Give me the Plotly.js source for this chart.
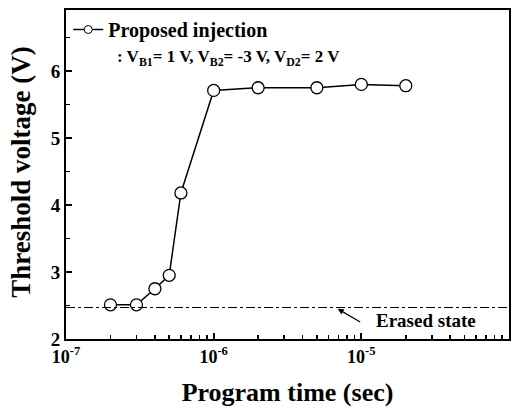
<!DOCTYPE html>
<html><head><meta charset="utf-8">
<script src="https://cdn.plot.ly/plotly-3.0.1.min.js"></script>
<style>html,body{margin:0;padding:0;background:#fff}#c{width:521px;height:409px}
.xtick text, .ytick text{font-weight:bold !important;}</style>
</head><body><div id="c"></div>
<script>
const programTime = [2e-7, 3e-7, 4e-7, 5e-7, 6e-7, 1e-6, 2e-6, 5e-6, 1e-5, 2e-5];
const thresholdV = [2.51, 2.51, 2.75, 2.95, 4.18, 5.71, 5.75, 5.75, 5.80, 5.78];
const erasedState = 2.47;
const xTickVals = [1e-7, 1e-6, 1e-5, 1e-4];
const xTickText = ['10<sup>-7</sup>', '10<sup>-6</sup>', '10<sup>-5</sup>', '10<sup>-4</sup>'];
const yTickVals = [2, 3, 4, 5, 6];
const seriesName = 'Proposed injection';
const conditionText = ': V<sub>B1</sub>= 1 V, V<sub>B2</sub>= -3 V, V<sub>D2</sub>= 2 V';
const xTitle = 'Program time (sec)';
const yTitle = 'Threshold voltage (V)';

const F = 'Liberation Serif, Times New Roman, serif';
const bold = s => '<b>' + s + '</b>';
const traces = [{
  x: programTime, y: thresholdV, type: 'scatter', mode: 'lines+markers',
  showlegend: false,
  line: {color: '#000', width: 1.5},
  marker: {symbol: 'circle', size: 12, color: '#fff', line: {width: 1.3, color: '#000'}}
}, {
  x: [null], y: [null], type: 'scatter', mode: 'lines+markers',
  name: bold(seriesName), showlegend: true,
  line: {color: '#000', width: 1.5},
  marker: {symbol: 'circle', size: 8, color: '#fff', line: {width: 1, color: '#000'}}
}];
const layout = {
  width: 521, height: 409,
  margin: {l: 66, r: 12, t: 10, b: 70},
  paper_bgcolor: '#fff', plot_bgcolor: '#fff',
  font: {family: F, color: '#000'},
  showlegend: true,
  legend: {x: 0.005, y: 1.0, xanchor: 'left', yanchor: 'top', bgcolor: 'rgba(0,0,0,0)',
    font: {family: F, size: 20, color: '#000'}, tracegroupgap: 0},
  xaxis: {
    type: 'log', range: [-7, -4],
    tickmode: 'array', tickvals: xTickVals, ticktext: xTickText.map(bold),
    ticks: 'inside', ticklen: 6, tickwidth: 2, tickcolor: '#000',
    minor: {ticks: 'inside', ticklen: 4, tickwidth: 1.5, tickcolor: '#000', dtick: 'D1'},
    showline: true, linewidth: 2, linecolor: '#000', mirror: true,
    showgrid: false, zeroline: false,
    tickfont: {family: F, size: 18, color: '#000', weight: 700},
    title: {text: bold(xTitle), font: {family: F, size: 26, color: '#000'}, standoff: 17}
  },
  yaxis: {
    range: [2, 6.91],
    tickmode: 'array', tickvals: yTickVals, ticktext: yTickVals.map(v => bold(v)),
    ticks: 'inside', ticklen: 6, tickwidth: 2, tickcolor: '#000',
    minor: {ticks: 'inside', ticklen: 4, tickwidth: 1.5, tickcolor: '#000', dtick: 0.5, tick0: 2},
    showline: true, linewidth: 2, linecolor: '#000', mirror: true,
    showgrid: false, zeroline: false,
    tickfont: {family: F, size: 19, color: '#000', weight: 700}
  },
  shapes: [{type: 'line', xref: 'paper', x0: 0, x1: 1, yref: 'y', y0: erasedState, y1: erasedState,
    line: {color: '#000', width: 1, dash: 'dashdot'}}],
  annotations: [
    {xref: 'paper', yref: 'paper', x: -0.1016, y: 0.508, xanchor: 'center', yanchor: 'middle',
     textangle: -90, text: bold(yTitle), showarrow: false, font: {family: F, size: 27, color: '#000'}},
    {xref: 'paper', yref: 'paper', x: 0.11, y: 0.855, xanchor: 'left', yanchor: 'middle',
     text: bold(conditionText), showarrow: false, font: {family: F, size: 17, color: '#000'}},
    {xref: 'x', yref: 'y', x: -4.56, y: 2.27, text: bold('Erased state'), showarrow: false,
     font: {family: F, size: 19, color: '#000'}},
    {xref: 'x', yref: 'y', x: -5.16, y: erasedState - 0.02, text: '', showarrow: true,
     arrowhead: 2, arrowsize: 1, arrowwidth: 1.2, arrowcolor: '#000', ax: 24, ay: 14}
  ]
};
Plotly.newPlot('c', traces, layout, {displayModeBar: false, staticPlot: true});
</script></body></html>
